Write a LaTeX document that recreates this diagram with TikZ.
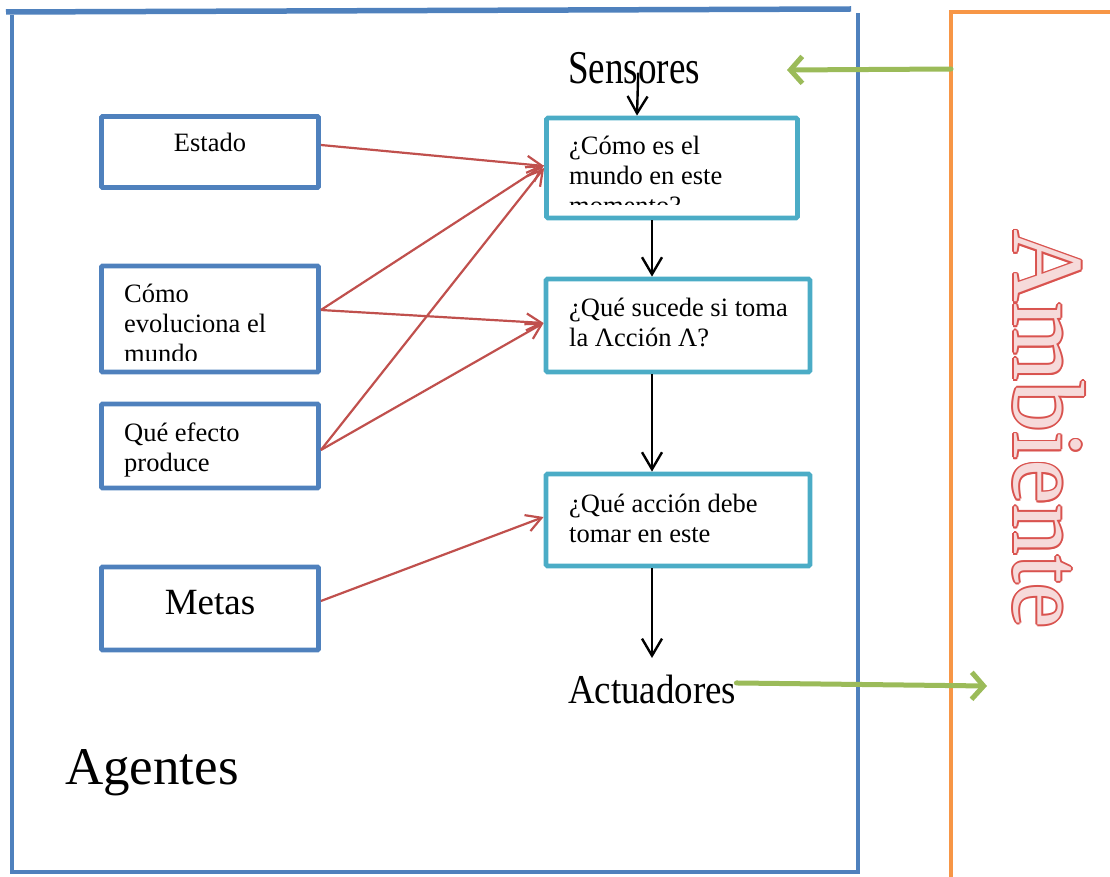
\documentclass[tikz,border=0pt]{standalone}
\usepackage{fontspec}
\setmainfont{Liberation Serif}
\usetikzlibrary{arrows.meta,calc}
\definecolor{agentblue}{HTML}{4F81BD}
\definecolor{stepcyan}{HTML}{4BACC6}
\definecolor{linkred}{HTML}{C0504D}
\definecolor{envgreen}{HTML}{9BBB59}
\definecolor{envorange}{HTML}{F79646}
\definecolor{ambred}{HTML}{D9534F}
\definecolor{ambpink}{HTML}{F6DADA}
\begin{document}
\begin{tikzpicture}[x=1pt,y=-1pt,
  inbox/.style={draw=agentblue,line width=4.8pt,rounded corners=1pt,inner sep=0pt},
  stepbox/.style={draw=stepcyan,line width=4.8pt,rounded corners=1.5pt,inner sep=0pt},
  boxtext/.style={font=\fontsize{26.5}{30}\selectfont,align=left,inner sep=0pt,anchor=base west},
  redlink/.style={draw=linkred,line width=2.2pt,-{Straight Barb[length=15pt,width=17pt]}},
  flow/.style={draw=black,line width=2.4pt,-{Straight Barb[length=17pt,width=20pt]}},
  envlink/.style={draw=envgreen,line width=5pt,line cap=round,line join=round,
                  -{Straight Barb[length=12pt,width=27pt]}},
  bigword/.style={inner sep=0pt,anchor=base west},
  ambword/.style={font=\fontsize{101}{101}\selectfont,rotate=-90,inner sep=0pt}]
\useasboundingbox (0,0) rectangle (1110,877);

% agent frame
\draw[agentblue,line width=5.5pt] (6,12) -- (851,9);
\draw[agentblue,line width=4.5pt] (12,15) -- (12,872) -- (858,872) -- (858,13);

% environment frame
\draw[envorange,line width=4pt] (1110,12) -- (951,12) -- (951,877);

% knowledge boxes on the left
\node[inbox,minimum width=217pt,minimum height=71pt] (estado) at (210,152) {};
\node[inbox,minimum width=217pt,minimum height=106pt] (evol) at (210,319) {};
\node[inbox,minimum width=217pt,minimum height=84pt] (efecto) at (210,446) {};
\node[inbox,minimum width=217pt,minimum height=83pt] (metas) at (210,608.5) {};

% multi-line texts are placed by the baseline of their last line
\node[font=\fontsize{26.5}{30}\selectfont,inner sep=0pt,anchor=base] (estadotxt) at (210,152) {Estado};
\begin{scope}
  \clip (104,269) rectangle (316,360);
  \node[boxtext] (evoltxt) at (124,362) {Cómo\\evoluciona el\\mundo};
\end{scope}
\node[boxtext] (efectotxt) at (124,471) {Qué efecto\\produce};
\node[font=\fontsize{37}{40}\selectfont,inner sep=0pt,anchor=base] (metastxt) at (210,614) {Metas};

% decision steps
\node[stepbox,minimum width=251pt,minimum height=100pt] (mundo) at (672,168) {};
\node[stepbox,minimum width=264pt,minimum height=93pt] (sucede) at (678,325.5) {};
\node[stepbox,minimum width=264pt,minimum height=92pt] (accion) at (678,520) {};

\begin{scope}
  \clip (550,122) rectangle (794,205);
  \node[boxtext] (mundotxt) at (569,215) {¿Cómo es el\\mundo en este\\momento?};
\end{scope}
\node[boxtext] (sucedetxt) at (569,346) {¿Qué sucede si toma\\la Λcción Λ?};
\begin{scope}
  \clip (550,478) rectangle (806,553);
  \node[boxtext] (acciontxt) at (569,572) {¿Qué acción debe\\tomar en este\\momento?};
\end{scope}

% sensors and actuators
\node[bigword] (sensores) at (568,84) {\fontsize{47}{50}\selectfont\scalebox{0.79}[1]{Sensores}};
\node[bigword] (actuadores) at (568,703) {\fontsize{41}{44}\selectfont\scalebox{0.9}[1]{Actuadores}};
\node[bigword,font=\fontsize{53}{56}\selectfont] (agentes) at (65,784) {Agentes};

% environment label, outlined
\coordinate (ambpos) at (1049,429);
\foreach \a [count=\i] in {0,45,...,315}
  \node[ambword,text=ambred] (amboutline\i) at ([shift={(\a:1.8pt)}]ambpos) {Ambiente};
\node[ambword,text=ambpink] (ambiente) at (ambpos) {Ambiente};

% internal flow
\coordinate (actin) at (652,658);
\draw[flow] ([xshift=4pt,yshift=-4pt]sensores.center) -- ([xshift=-35pt]mundo.north);
\draw[flow] ([xshift=-20pt]mundo.south) -- ([xshift=-26pt]sucede.north);
\draw[flow] ([xshift=-26pt]sucede.south) -- ([xshift=-26pt]accion.north);
\draw[flow] ([xshift=-26pt]accion.south) -- (actin);

% knowledge links
\draw[redlink] ([yshift=7pt]estado.east) -- ([yshift=2pt]mundo.west);
\draw[redlink] ([yshift=9pt]evol.east) -- ([yshift=3pt]mundo.west);
\draw[redlink] ([yshift=9pt]evol.east) -- ([yshift=2.5pt]sucede.west);
\draw[redlink] ([yshift=-4pt]efecto.east) -- ([yshift=0pt]mundo.west);
\draw[redlink] ([yshift=-4pt]efecto.east) -- ([yshift=2.5pt]sucede.west);
\draw[redlink] ([yshift=7.5pt]metas.east) -- ([yshift=3pt]accion.west);

% exchange with the environment
\coordinate (envout) at (951,69);
\coordinate (percept) at (787,70);
\coordinate (envin) at (987,686);
\draw[envlink] (envout) -- (percept);
\draw[envlink] ([yshift=6pt]actuadores.east) -- (envin);
\end{tikzpicture}
\end{document}
